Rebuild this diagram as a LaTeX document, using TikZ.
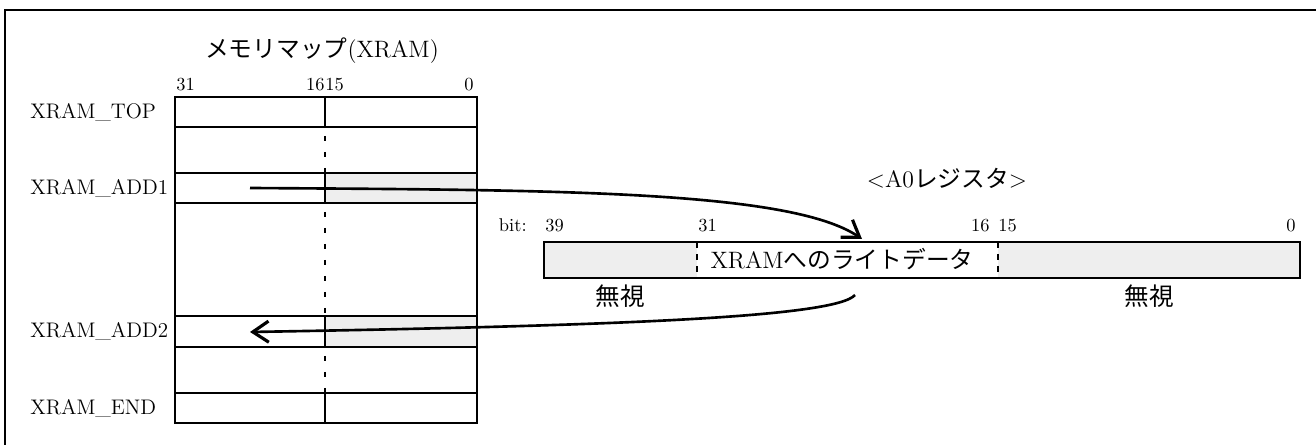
\documentclass[tikz,border=0pt]{standalone}
\usepackage{fontspec}
\newfontfamily\jp{Noto Sans CJK JP}
\usetikzlibrary{arrows.meta,positioning}

\begin{document}
\begin{tikzpicture}[
  x=0.02cm, y=-0.02cm,
  cell/.style={line width=1.4pt},
  ign/.style={fill=gray!13},
  gapline/.style={line width=1.5pt, dash pattern=on 0.1cm off 0.22cm},
  divline/.style={line width=1.6pt, dash pattern=on 0.12cm off 0.12cm},
  bits/.style={font=\fontsize{10.5}{12}\selectfont, inner sep=0pt},
  addr/.style={font=\fontsize{12}{14}\selectfont, anchor=west, inner sep=0pt},
  ttl/.style={font=\fontsize{13.5}{15}\selectfont, inner sep=0pt},
  jplabel/.style={font=\fontsize{14}{16}\selectfont\jp, inner sep=0pt},
  arrow/.style={-{Straight Barb[length=9pt,width=12pt,line width=1.8pt]}, line width=1.5pt},
]

% === Frame ===
\useasboundingbox (0,0) rectangle (1316,445);
\draw[line width=0.8pt] (5,445) -- (5,10) -- (1316,10);

% === Memory map ===
\fill[ign] (325,173) rectangle (477,203);
\fill[ign] (325,316) rectangle (477,347);
\draw[cell] (175,97) rectangle (477,423);
\foreach \y in {127,173,203,316,347,393}
  \draw[cell] (175,\y) -- (477,\y);
\foreach \a/\b in {97/127,173/203,316/347,393/423}
  \draw[cell] (325,\a) -- (325,\b);
\foreach \a/\b in {127/173,203/316,347/393}
  \draw[gapline] (325,\a+9) -- (325,\b);

\node[ttl] (mtitle) at (322,51) {{\jp メモリマップ}(XRAM)};
\node[bits, anchor=base west] (m31) at (176,91) {31};
\node[bits, anchor=base east] (m16) at (325,91) {16};
\node[bits, anchor=base west] (m15) at (325,91) {15};
\node[bits, anchor=base east] (m0) at (474,91) {0};

\node[addr] (top) at (30,112) {XRAM\_TOP};
\node[addr] (add1) at (30,188) {XRAM\_ADD1};
\node[addr] (add2) at (30,331) {XRAM\_ADD2};
\node[addr] (end) at (30,408) {XRAM\_END};

% === A0 register ===
\fill[ign] (544,242) rectangle (697,278);
\fill[ign] (998,242) rectangle (1300,278);
\draw[cell] (544,242) rectangle (1300,278);
\draw[divline] (697,242) -- (697,278);
\draw[divline] (998,242) -- (998,278);

\node[ttl] (rtitle) at (947,178) {<A0{\jp レジスタ}>};
\node[bits, anchor=base east] (bit) at (527,232) {bit:};
\node[bits, anchor=base west] (r39) at (545,232) {39};
\node[bits, anchor=base west] (r31) at (698,232) {31};
\node[bits, anchor=base east] (r16) at (990,232) {16};
\node[bits, anchor=base west] (r15) at (998,232) {15};
\node[bits, anchor=base east] (r0) at (1296,232) {0};

\node[ttl] (wdata) at (842,259) {XRAM{\jp へのライトデータ}};
\node[jplabel] (ign1) at (620,296) {無視};
\node[jplabel] (ign2) at (1149,296) {無視};

% === Transfers ===
\coordinate (src) at (250,188);
\coordinate (hit) at (862,239);
\coordinate (back) at (855,295);
\coordinate (dst) at (250,332);
\draw[arrow] (src) .. controls (550,190) and (790,190) .. (hit);
\draw[arrow] (back) .. controls (835,318) and (600,326) .. (dst);

\end{tikzpicture}
\end{document}
